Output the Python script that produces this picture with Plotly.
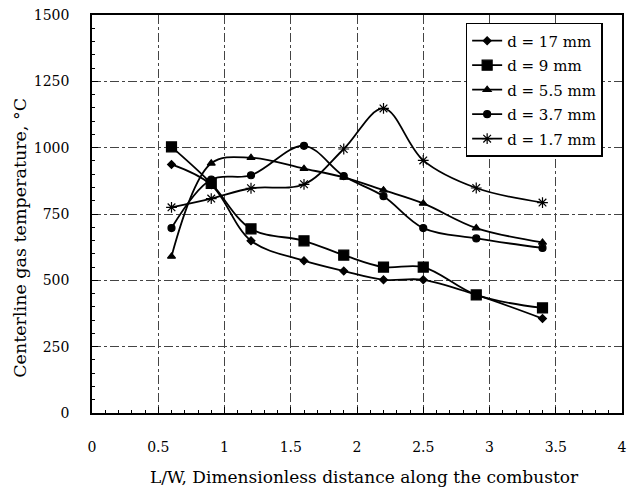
import plotly.graph_objects as go

x_vals = [0.6, 0.9, 1.2, 1.6, 1.9, 2.2, 2.5, 2.9, 3.4]
d17 = [937, 860, 649, 574, 535, 502, 502, 445, 356]
d9 = [1003, 865, 694, 649, 595, 550, 550, 445, 396]
d55 = [590, 941, 962, 921, 888, 840, 790, 697, 643]
d37 = [697, 880, 896, 1007, 893, 817, 697, 658, 622]
d17mm = [775, 808, 847, 862, 995, 1148, 952, 848, 793]

names = ["d = 17 mm", "d = 9 mm", "d = 5.5 mm", "d = 3.7 mm", "d = 1.7 mm"]
series = [d17, d9, d55, d37, d17mm]
symbols = ["diamond", "square", "triangle-up", "circle", "asterisk-open"]
sizes = [6, 10, 7, 7, 9]

x_ticks = [0, 0.5, 1, 1.5, 2, 2.5, 3, 3.5, 4]
x_ticktext = ["0", "0.5", "1", "1.5", "2", "2.5", "3", "3.5", "4"]
y_ticks = [0, 250, 500, 750, 1000, 1250, 1500]

x_title = "L/W, Dimensionless distance along the combustor"
y_title = "Centerline gas temperature, °C"

font = "DejaVu Serif"

fig = go.Figure()
for i, (name, ys, sym, sz) in enumerate(zip(names, series, symbols, sizes)):
    fig.add_trace(go.Scatter(
        x=x_vals, y=ys, name=name, mode="lines+markers", legendgroup=f"g{i}",
        line=dict(color="black", width=1.8, shape="spline", smoothing=1.0),
        marker=dict(symbol=sym, size=sz, color="black",
                    line=dict(color="black", width=1.2)),
    ))

fig.update_layout(
    width=630, height=491,
    margin=dict(l=92, r=3, t=15, b=78),
    paper_bgcolor="white", plot_bgcolor="white",
    font=dict(family=font, size=14, color="black"),
    showlegend=True,
    legend=dict(x=0.705, y=0.98, xanchor="left", yanchor="top",
                bgcolor="white", bordercolor="black", borderwidth=1.5,
                font=dict(family=font, size=15, color="black"),
                itemwidth=30, tracegroupgap=2),
    annotations=[
        dict(text=y_title, textangle=-90,
             xref="paper", yref="paper", x=-0.136, y=0.44,
             xanchor="center", yanchor="middle", showarrow=False,
             font=dict(family=font, size=17.5, color="black")),
        dict(text=x_title,
             xref="paper", yref="paper", x=0.514, y=-0.161,
             xanchor="center", yanchor="middle", showarrow=False,
             font=dict(family=font, size=17, color="black")),
    ],
)
fig.update_xaxes(
    range=[0, 4], tickvals=x_ticks, ticktext=x_ticktext,
    showline=True, linecolor="black", linewidth=1.5, mirror=True,
    ticks="inside", ticklen=6, tickcolor="black",
    minor=dict(dtick=0.1, ticks="inside", ticklen=3, tickcolor="black", showgrid=False),
    showgrid=True, gridcolor="#444", griddash="dashdot", gridwidth=1,
    zeroline=False, ticklabelstandoff=20,
    tickfont=dict(family=font, size=14),
)
fig.update_yaxes(
    range=[0, 1500], tickvals=y_ticks,
    showline=True, linecolor="black", linewidth=1.5, mirror=True,
    ticks="inside", ticklen=6, tickcolor="black",
    minor=dict(dtick=50, ticks="inside", ticklen=3, tickcolor="black", showgrid=False),
    showgrid=True, gridcolor="#444", griddash="dashdot", gridwidth=1,
    zeroline=False, ticklabelstandoff=18,
    tickfont=dict(family=font, size=14),
)

fig.write_html("out.html")
